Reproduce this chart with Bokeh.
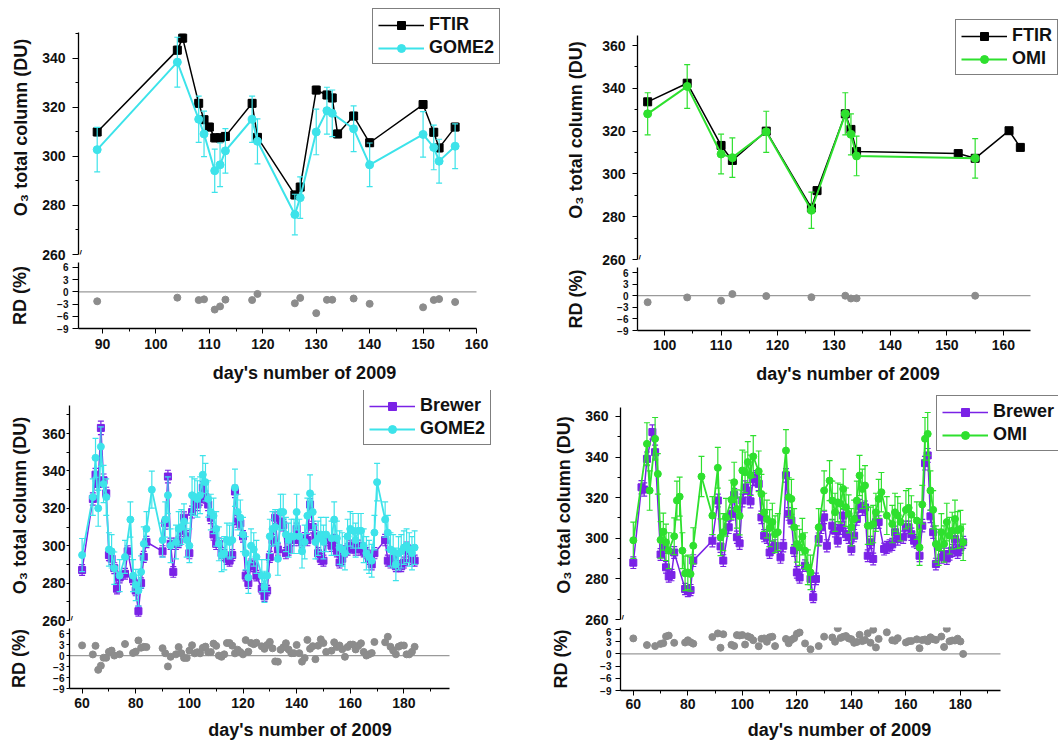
from bokeh.plotting import figure
from bokeh.layouts import row, column
from bokeh.models import Range1d, FixedTicker, Legend, LegendItem, Label
from bokeh.embed import file_html
from bokeh.resources import INLINE

# ---------------- data ----------------
# Panel 1: FTIR vs GOME2
p1_ftir_days = [89, 104, 105, 108, 109, 110, 111, 112, 113, 118, 119, 126, 127, 130, 132, 133, 134, 137, 140, 150, 152, 153, 156]
p1_ftir_o3 = [310.0, 343.4, 348.3, 321.7, 315.0, 312.0, 307.6, 307.6, 308.2, 321.7, 307.8, 284.3, 287.5, 327.1, 325.1, 323.9, 309.2, 316.5, 305.6, 321.2, 309.9, 303.5, 312.0]
p1_gome_days = [89, 104, 108, 109, 111, 112, 113, 118, 119, 126, 127, 130, 132, 133, 137, 140, 150, 152, 153, 156]
p1_gome_o3 = [302.8, 338.5, 315.2, 309.2, 294.2, 296.6, 302.3, 315.2, 306.2, 276.3, 283.2, 310.0, 318.7, 317.6, 311.3, 296.6, 309.0, 303.7, 298.1, 304.2]

# Panel 2: FTIR vs OMI
p2_ftir_days = [97, 104, 110, 112, 118, 126, 127, 132, 133, 134, 152, 155, 161, 163]
p2_ftir_o3 = [333.7, 342.4, 313.3, 306.3, 320.0, 284.1, 292.2, 328.1, 320.8, 310.5, 309.5, 307.3, 320.2, 312.4]
p2_omi_days = [97, 104, 110, 112, 118, 126, 132, 133, 134, 155]
p2_omi_o3 = [328.1, 340.9, 309.3, 307.6, 319.7, 283.0, 328.1, 318.5, 308.4, 307.3]

# Panel 3: Brewer vs GOME2
p3_brewer_days = [60, 64, 65, 66, 67, 68, 69, 70, 71, 72, 73, 74, 76, 77, 79, 80, 81, 82, 83, 84,
                  90, 91, 92, 93, 94, 95, 96, 97, 98, 99, 100, 101, 102, 103, 104, 105, 106, 107, 108, 109,
                  110, 111, 112, 113, 114, 115, 116, 117, 118, 119, 120, 121, 122, 123, 124, 125, 127, 128, 129, 130,
                  131, 132, 133, 134, 135, 136, 137, 138, 139, 140, 141, 142, 143, 144, 145, 146, 147, 148, 149, 150,
                  151, 153, 154, 155, 156, 157, 158, 159, 160, 161, 162, 163, 164, 165, 166, 167, 168, 169,
                  173, 174, 175, 176, 177, 178, 179, 180, 181, 182, 183, 184]
p3_brewer_o3 = [287, 325, 338, 333, 363, 335, 328, 295, 293, 288, 277, 283, 285, 297, 282, 276, 265, 280, 294, 302,
                297, 312, 337, 301, 286, 301, 302, 308, 315, 305, 296, 318, 324, 322, 325, 331, 326, 322, 315, 306,
                301, 301, 296, 295, 293, 292, 295, 329, 313, 312, 305, 284, 280, 290, 289, 284, 277, 273, 276, 294,
                303, 315, 298, 313, 311, 296, 298, 303, 303, 309, 303, 302, 304, 303, 322, 310, 305, 296, 293, 292,
                303, 300, 303, 297, 291, 293, 297, 298, 300, 299, 298, 300, 298, 297, 296, 293, 290, 296,
                303, 292, 291, 293, 289, 289, 289, 291, 299, 297, 293, 292]
p3_gome_days = [60, 64, 65, 66, 67, 68, 69, 70, 71, 72, 74, 76, 78, 79, 80, 81, 82, 83, 84, 86,
                90, 91, 92, 93, 95, 96, 97, 98, 99, 100, 101, 102, 103, 104, 105, 106, 107, 108, 109, 110,
                111, 112, 113, 114, 115, 116, 117, 118, 119, 120, 121, 122, 123, 124, 125, 127, 128, 129, 130, 131,
                132, 133, 134, 135, 136, 137, 138, 139, 140, 141, 142, 143, 144, 145, 146, 147, 148, 149, 150, 151,
                153, 154, 155, 156, 157, 158, 159, 160, 161, 162, 163, 164, 165, 166, 167, 168, 169, 170,
                173, 174, 175, 176, 177, 178, 179, 180, 181, 182, 183, 184]
p3_gome_o3 = [295, 326, 347, 320, 353, 333, 326, 298, 297, 288, 284, 294, 314, 284, 279, 276, 286, 301, 309, 330,
              303, 314, 327, 300, 302, 309, 310, 313, 303, 300, 327, 326, 325, 327, 338, 334, 325, 318, 316, 309,
              301, 295, 296, 303, 302, 303, 331, 318, 315, 306, 296, 283, 300, 298, 294, 284, 278, 284, 305, 309,
              310, 293, 318, 318, 306, 303, 305, 305, 318, 305, 297, 302, 316, 328, 318, 302, 304, 306, 302, 306,
              304, 314, 304, 299, 298, 296, 305, 309, 308, 303, 308, 308, 300, 296, 294, 292, 307, 334,
              314, 307, 298, 297, 290, 296, 297, 299, 300, 298, 296, 299]

# Panel 4: Brewer vs OMI
p4_brewer_days = [60, 63, 64, 65, 67, 68, 70, 71, 72, 73, 74, 75, 79, 80, 81, 82, 89, 91, 92, 93,
                  95, 96, 97, 98, 99, 100, 101, 102, 103, 104, 105, 106, 107, 108, 109, 110, 111, 112, 114, 115,
                  116, 117, 118, 119, 120, 121, 123, 125, 126, 127, 128, 129, 130, 131, 133, 134, 135, 136, 137, 138,
                  139, 140, 141, 142, 143, 144, 145, 146, 147, 148, 149, 150, 152, 153, 154, 155, 156, 157, 159, 160,
                  161, 162, 163, 164, 165, 166, 167, 168, 169, 170, 171, 173, 174, 175, 176, 177, 178, 179, 180, 181]
p4_brewer_o3 = [288.0, 325.1, 324.0, 339.1, 352.3, 342.4, 292.0, 295.5, 285.7, 281.2, 281.9, 293.0, 275.0, 274.0, 274.5, 289.0, 298.8, 318.6, 296.0, 289.0,
                305.4, 312.0, 321.3, 300.5, 297.5, 318.6, 325.0, 323.5, 318.2, 329.2, 330.0, 326.8, 310.3, 301.3, 300.5, 293.0, 295.5, 296.3, 290.6, 296.3,
                331.0, 312.0, 308.7, 294.0, 283.2, 280.7, 286.5, 280.0, 271.0, 280.0, 299.6, 305.4, 310.3, 296.3, 306.2, 303.7, 298.8, 305.0, 311.2, 302.0,
                300.5, 294.7, 301.3, 309.5, 316.0, 314.4, 315.2, 291.4, 298.0, 289.8, 307.9, 308.0, 294.7, 295.5, 296.3, 297.0, 303.0, 299.6, 300.5, 305.4,
                305.4, 302.0, 298.8, 298.0, 291.4, 306.2, 337.0, 340.8, 310.8, 303.0, 287.3, 290.6, 292.2, 290.0, 292.2, 294.0, 299.6, 293.0, 295.5, 298.0]
p4_omi_days = [60, 65, 66, 68, 69, 70, 71, 72, 73, 75, 76, 77, 78, 79, 80, 81, 82, 85, 89, 91,
               92, 93, 94, 96, 97, 98, 99, 100, 101, 102, 103, 104, 106, 107, 108, 109, 110, 111, 112, 113,
               116, 117, 118, 119, 120, 121, 122, 123, 124, 125, 128, 130, 132, 133, 134, 135, 136, 137, 138, 139,
               140, 141, 142, 143, 144, 145, 146, 147, 148, 149, 150, 151, 153, 155, 156, 157, 158, 160, 161, 162,
               164, 165, 166, 167, 168, 169, 170, 171, 172, 173, 174, 175, 176, 177, 178, 179, 180, 181]
p4_omi_o3 = [299.0, 346.5, 323.5, 349.0, 331.7, 299.2, 303.3, 298.0, 293.9, 301.0, 318.6, 320.5, 293.9, 282.7, 283.2, 282.4, 296.3, 330.4, 311.2, 334.7,
             300.5, 303.0, 310.3, 319.0, 327.6, 314.4, 311.0, 333.4, 332.5, 337.5, 331.0, 340.3, 333.0, 321.8, 312.8, 309.5, 305.0, 308.0, 302.0, 303.0,
             343.2, 320.2, 319.4, 305.4, 297.2, 295.5, 300.8, 293.9, 285.7, 283.2, 305.4, 323.5, 328.4, 318.6, 312.8, 317.7, 317.0, 324.3, 315.3, 312.0,
             305.4, 309.5, 318.6, 330.9, 324.3, 326.0, 306.2, 306.2, 307.0, 312.8, 319.4, 322.7, 311.2, 307.0, 312.8, 311.2, 308.0, 314.0, 315.0, 311.6,
             308.7, 295.5, 316.6, 349.0, 351.4, 323.5, 314.0, 297.2, 295.5, 303.0, 297.2, 308.0, 301.3, 303.7, 309.5, 304.0, 304.6, 298.0]

# uncertainties
FTIR_ERR_DU = 1.5
BREWER_REL_ERR = 0.01
SAT_REL_ERR = 0.03

# ---------------- style ----------------
FONT = "Liberation Sans"
BLACK = "#000000"
CYAN = "#3DE3EA"
PURPLE = "#7A22E6"
GREEN = "#2EE02E"
GRAY = "#8C8C8C"


def rel_diff(gd, gv, sd, sv):
    g = dict(zip(gd, gv))
    d_out, v_out = [], []
    for d, v in zip(sd, sv):
        if d in g:
            d_out.append(d)
            v_out.append((v - g[d]) / g[d] * 100.0)
    return d_out, v_out


def style_axis(ax, label_size, tick_out, lab_standoff, axlab_standoff):
    ax.axis_line_color = "black"
    ax.axis_line_width = 1.3
    ax.major_tick_line_color = "black"
    ax.minor_tick_line_color = "black"
    ax.major_tick_out = tick_out
    ax.major_tick_in = 0
    ax.minor_tick_out = 3
    ax.minor_tick_in = 0
    ax.major_label_text_font = FONT
    ax.major_label_text_font_style = "bold"
    ax.major_label_text_font_size = label_size
    ax.major_label_text_color = "#111111"
    ax.major_label_standoff = lab_standoff
    ax.axis_label_text_font = FONT
    ax.axis_label_text_font_style = "bold"
    ax.axis_label_text_font_size = "18px"
    ax.axis_label_text_color = "#111111"
    ax.axis_label_standoff = axlab_standoff


def draw_series(p, days, vals, errs, color, marker, size, lw):
    up = [v + e for v, e in zip(vals, errs)]
    lo = [v - e for v, e in zip(vals, errs)]
    p.segment(days, lo, days, up, line_color=color, line_width=1.2)
    p.scatter(days, up, marker="dash", size=6, line_color=color, line_width=1.2)
    p.scatter(days, lo, marker="dash", size=6, line_color=color, line_width=1.2)
    lr = p.line(days, vals, line_color=color, line_width=lw)
    sr = p.scatter(days, vals, marker=marker, size=size, fill_color=color, line_color=color)
    return lr, sr


def make_panel(cfg, series):
    W, mbl, mbr = cfg["width"], cfg["mbl"], cfg["mbr"]
    x0, x1 = cfg["xrange"]
    y0, y1 = cfg["yrange"]
    # frames reach the canvas top / right edge (room for the legend); ranges are
    # widened so the data scale stays that of the axes, whose bounds are kept
    x1_ext = x0 + (x1 - x0) * (W - mbl) / (W - mbl - mbr)
    fb = cfg["main_h"] - cfg["main_mbb"]
    ft = cfg["main_top"]
    y1_ext = y1 + (y1 - y0) * ft / (fb - ft)

    pm = figure(width=W, height=cfg["main_h"], x_range=Range1d(x0, x1_ext), y_range=Range1d(y0, y1_ext),
                x_axis_location=None, toolbar_location=None, output_backend="svg",
                min_border_left=mbl, min_border_right=0,
                min_border_top=0, min_border_bottom=cfg["main_mbb"])
    pm.outline_line_color = None
    pm.grid.visible = False
    pm.yaxis.axis_label = "O\u2083 total column (DU)"
    pm.yaxis.ticker = FixedTicker(ticks=cfg["yticks"], minor_ticks=cfg["yminor"])
    pm.yaxis.bounds = (y0, y1)
    style_axis(pm.yaxis[0], "14px", *cfg["ystyle"])

    items = []
    for s in series:
        lr, sr = draw_series(pm, s["days"], s["vals"], s["errs"], s["color"], s["marker"], s["size"], s["lw"])
        items.append(LegendItem(label=s["label"], renderers=[lr, sr]))
    leg = Legend(items=items, location=cfg["legend_loc"])
    leg.border_line_color = "black"
    leg.border_line_width = 1.5
    leg.background_fill_color = "white"
    leg.background_fill_alpha = 1.0
    leg.label_text_font = FONT
    leg.label_text_font_style = "bold"
    leg.label_text_font_size = "18px"
    leg.label_text_color = "#111111"
    leg.glyph_width = 46
    leg.glyph_height = 20
    leg.label_height = 20
    leg.label_standoff = 5
    leg.padding = 5
    leg.spacing = 2
    leg.margin = 0
    pm.add_layout(leg)
    pm.add_layout(Label(x=x0, y=y0, text="//", text_font_size="12px",
                        text_align="center", text_baseline="middle", text_color="black"))

    g, sat = series[0], series[1]
    rd_days, rd_vals = rel_diff(g["days"], g["vals"], sat["days"], sat["vals"])
    pr = figure(width=W, height=cfg["rd_h"], x_range=Range1d(x0, x1_ext), y_range=Range1d(*cfg["rdrange"]),
                toolbar_location=None, output_backend="svg",
                min_border_left=mbl, min_border_right=0,
                min_border_top=0, min_border_bottom=cfg["rd_mbb"])
    pr.outline_line_color = None
    pr.grid.visible = False
    pr.segment(x0=[x0], y0=[0], x1=[x1], y1=[0], line_color="#9A9A9A", line_width=1.3)
    pr.scatter(rd_days, rd_vals, marker="circle", size=7, fill_color=GRAY, line_color=GRAY)
    pr.yaxis.axis_label = "RD (%)"
    pr.yaxis.ticker = FixedTicker(ticks=[-9, -6, -3, 0, 3, 6])
    style_axis(pr.yaxis[0], "10px", *cfg["rdstyle"])
    pr.xaxis.axis_label = "day's number of 2009"
    pr.xaxis.ticker = FixedTicker(ticks=cfg["xticks"], minor_ticks=cfg["xminor"])
    pr.xaxis.bounds = (x0, x1)
    style_axis(pr.xaxis[0], "14px", *cfg["xstyle"])
    return column(pm, pr)


def ftir_err(vals):
    return [FTIR_ERR_DU for _ in vals]


def rel_err(vals, frac):
    return [v * frac for v in vals]


panel1 = make_panel(
    dict(width=530, mbl=78, mbr=54, main_h=262, main_top=32, main_mbb=8, rd_h=128, rd_mbb=62,
         xrange=(85.5, 160), yrange=(260, 350.6), rdrange=(-9, 7.2),
         yticks=[260, 280, 300, 320, 340], yminor=[270, 290, 310, 330, 350],
         xticks=[90, 100, 110, 120, 130, 140, 150, 160], xminor=[95, 105, 115, 125, 135, 145, 155],
         ystyle=(6, 7, 8), rdstyle=(6, 4, 24), xstyle=(5, 5, 11), legend_loc=(294, 190)),
    [dict(days=p1_ftir_days, vals=p1_ftir_o3, errs=ftir_err(p1_ftir_o3), color=BLACK, marker="square", size=8, lw=1.5, label="FTIR"),
     dict(days=p1_gome_days, vals=p1_gome_o3, errs=rel_err(p1_gome_o3, SAT_REL_ERR), color=CYAN, marker="circle", size=8, lw=2, label="GOME2")])

panel2 = make_panel(
    dict(width=528, mbl=107, mbr=28, main_h=267, main_top=35, main_mbb=8, rd_h=123, rd_mbb=60,
         xrange=(95.2, 164.8), yrange=(260, 364.7), rdrange=(-9, 7.3),
         yticks=[260, 280, 300, 320, 340, 360], yminor=[270, 290, 310, 330, 350],
         xticks=[100, 110, 120, 130, 140, 150, 160], xminor=[105, 115, 125, 135, 145, 155],
         ystyle=(5, 7, 13), rdstyle=(5, 4, 28), xstyle=(5, 4, 11), legend_loc=(318, 184)),
    [dict(days=p2_ftir_days, vals=p2_ftir_o3, errs=ftir_err(p2_ftir_o3), color=BLACK, marker="square", size=8, lw=1.5, label="FTIR"),
     dict(days=p2_omi_days, vals=p2_omi_o3, errs=rel_err(p2_omi_o3, SAT_REL_ERR), color=GREEN, marker="circle", size=8, lw=2, label="OMI")])

panel3 = make_panel(
    dict(width=530, mbl=69, mbr=81, main_h=238, main_top=15, main_mbb=8, rd_h=115, rd_mbb=55,
         xrange=(55.3, 197), yrange=(260, 375), rdrange=(-9, 7.4),
         yticks=[260, 280, 300, 320, 340, 360], yminor=[270, 290, 310, 330, 350, 370],
         xticks=[60, 80, 100, 120, 140, 160, 180], xminor=[70, 90, 110, 130, 150, 170, 190],
         ystyle=(3, 1, 9), rdstyle=(3, 2, 21), xstyle=(5, 4, 9), legend_loc=(294, 175)),
    [dict(days=p3_brewer_days, vals=p3_brewer_o3, errs=rel_err(p3_brewer_o3, BREWER_REL_ERR), color=PURPLE, marker="square", size=7, lw=1.5, label="Brewer"),
     dict(days=p3_gome_days, vals=p3_gome_o3, errs=rel_err(p3_gome_o3, SAT_REL_ERR), color=CYAN, marker="circle", size=7, lw=1.8, label="GOME2")])

panel4 = make_panel(
    dict(width=528, mbl=90, mbr=58, main_h=237, main_top=17, main_mbb=8, rd_h=116, rd_mbb=53,
         xrange=(55.3, 194.7), yrange=(260, 364.4), rdrange=(-9, 6.5),
         yticks=[260, 280, 300, 320, 340, 360], yminor=[270, 290, 310, 330, 350],
         xticks=[60, 80, 100, 120, 140, 160, 180], xminor=[70, 90, 110, 130, 150, 170, 190],
         ystyle=(5, 7, 8), rdstyle=(5, 4, 26), xstyle=(5, 3, 8), legend_loc=(316, 168)),
    [dict(days=p4_brewer_days, vals=p4_brewer_o3, errs=rel_err(p4_brewer_o3, BREWER_REL_ERR), color=PURPLE, marker="square", size=7, lw=1.5, label="Brewer"),
     dict(days=p4_omi_days, vals=p4_omi_o3, errs=rel_err(p4_omi_o3, SAT_REL_ERR), color=GREEN, marker="circle", size=7, lw=1.8, label="OMI")])

layout = column(row(panel1, panel2), row(panel3, panel4))

open("out.html", "w").write(file_html(layout, INLINE))
